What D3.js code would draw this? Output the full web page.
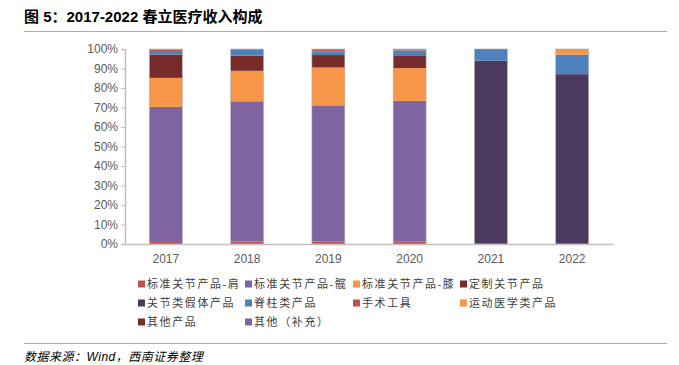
<!DOCTYPE html>
<html>
<head>
<meta charset="utf-8">
<script src="https://cdn.jsdelivr.net/npm/d3@7"></script>
<style>
  body { margin: 0; background: #fff; }
  text { font-family: Arial, "Liberation Sans", "Noto Sans CJK SC", sans-serif; }
</style>
</head>
<body>
<svg id="chart"></svg>
<script>
// canvas
var width = 679,
    height = 365;

// data (share of revenue, %)
var years = ["2017", "2018", "2019", "2020", "2021", "2022"];
var seriesNames = ["标准关节产品-肩", "标准关节产品-髋", "标准关节产品-膝", "定制关节产品",
                   "关节类假体产品", "脊柱类产品", "手术工具", "运动医学类产品",
                   "其他产品", "其他（补充）"];
var shoulder      = [1.5, 1.3, 1.2, 1.2, 0, 0];
var hip           = [68.8, 71.9, 69.9, 72.2, 0, 0];
var knee          = [14.9, 15.6, 19.4, 16.8, 0, 0];
var custom        = [11.9, 7.8, 6.4, 6.2, 0, 0];
var prosthesis    = [0, 0, 0, 0, 94.0, 87.1];
var spine         = [1.9, 2.9, 1.9, 2.9, 6.0, 10.0];
var tools         = [0.7, 0.4, 1.1, 0.5, 0, 0];
var sports        = [0.2, 0.1, 0.1, 0.1, 0, 2.9];
var otherProducts = [0.1, 0, 0, 0.1, 0, 0];
var supplement    = [0, 0, 0, 0, 0, 0];
var yTicks = [0, 10, 20, 30, 40, 50, 60, 70, 80, 90, 100];

var colors = ["#C0504D", "#8064A2", "#F79646", "#772C2A", "#4B3A5E",
              "#4F81BD", "#C0504D", "#F79646", "#772C2A", "#8064A2"];

var allSeries = [shoulder, hip, knee, custom, prosthesis, spine, tools, sports, otherProducts, supplement];
var rows = years.map(function(y, i) {
  var r = { year: y };
  seriesNames.forEach(function(n, k) { r[n] = allSeries[k][i]; });
  return r;
});

var svg = d3.select("#chart")
  .attr("width", width)
  .attr("height", height);

// header
svg.append("text")
  .attr("x", 24).attr("y", 22)
  .style("font-size", "15px")
  .style("font-weight", "bold")
  .style("fill", "#000")
  .text("图 5：2017-2022 春立医疗收入构成");
svg.append("line")
  .attr("x1", 24).attr("x2", 667).attr("y1", 31.5).attr("y2", 31.5)
  .style("stroke", "#D9A45B").style("stroke-width", 1.2);

// footer
svg.append("line")
  .attr("x1", 24).attr("x2", 667).attr("y1", 343.5).attr("y2", 343.5)
  .style("stroke", "#D9A45B").style("stroke-width", 1.2);
svg.append("text")
  .attr("x", 24).attr("y", 361)
  .style("font-size", "12px")
  .style("font-style", "italic")
  .style("letter-spacing", "0.5px")
  .style("fill", "#000")
  .text("数据来源：Wind，西南证券整理");

// scales
var x = d3.scaleBand()
  .domain(years)
  .range([125, 613])
  .paddingInner(0.595)
  .paddingOuter(0.3);

var y = d3.scaleLinear()
  .domain([0, 100])
  .range([244, 49]);

var stack = d3.stack().keys(seriesNames);
var layers = stack(rows);

svg.append("g")
  .selectAll("g")
  .data(layers)
  .enter().append("g")
    .style("fill", function(d, i) { return colors[i]; })
  .selectAll("rect")
  .data(function(d) { return d; })
  .enter().append("rect")
    .attr("x", function(d) { return x(d.data.year); })
    .attr("width", x.bandwidth())
    .attr("y", function(d) { return y(d[1]); })
    .attr("height", function(d) { return y(d[0]) - y(d[1]); });

// thin grey outline around each bar
svg.append("g")
  .selectAll("rect")
  .data(years)
  .enter().append("rect")
    .attr("x", function(d) { return x(d); })
    .attr("width", x.bandwidth())
    .attr("y", y(100))
    .attr("height", y(0) - y(100))
    .style("fill", "none")
    .style("stroke", "#b0b0b0")
    .style("stroke-width", 0.6);

// y axis
var yAxis = svg.append("g")
  .attr("transform", "translate(125,0)")
  .call(d3.axisLeft(y).tickValues(yTicks).tickSize(4).tickFormat(function(d) { return d + "%"; }));
yAxis.select(".domain").style("stroke", "#bfbfbf").style("stroke-width", 1.5);
yAxis.selectAll(".tick line").style("stroke", "#bfbfbf");
yAxis.selectAll(".tick text")
  .attr("x", -7)
  .style("font-size", "12px")
  .style("fill", "#595959");

// x axis
var xAxis = svg.append("g")
  .attr("transform", "translate(0,244)")
  .call(d3.axisBottom(x).tickSize(0).tickSizeOuter(0));
xAxis.select(".domain").style("stroke", "#bfbfbf").style("stroke-width", 1.5);
xAxis.selectAll(".tick text")
  .attr("dy", "1.3em")
  .style("font-size", "12px")
  .style("fill", "#595959");

// legend
var legendCols = [138, 245, 353, 460];
var legendRows = [284, 303, 322];
var legend = svg.append("g")
  .selectAll("g")
  .data(seriesNames)
  .enter().append("g")
    .attr("transform", function(d, i) {
      return "translate(" + legendCols[i % 4] + "," + legendRows[Math.floor(i / 4)] + ")";
    });
legend.append("rect")
  .attr("x", 0).attr("y", -3.5)
  .attr("width", 7).attr("height", 7)
  .style("fill", function(d, i) { return colors[i]; });
legend.append("text")
  .attr("x", 9).attr("y", 0)
  .attr("dy", "0.36em")
  .style("font-size", "11px")
  .style("letter-spacing", "1.6px")
  .style("fill", "#404040")
  .text(function(d) { return d; });
</script>
</body>
</html>
